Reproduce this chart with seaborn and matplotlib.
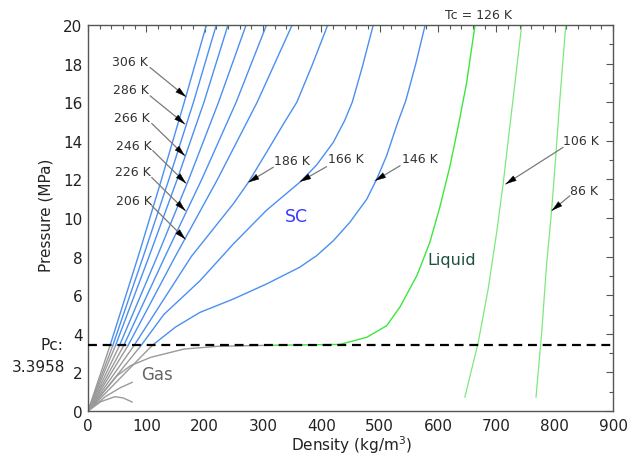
import numpy as np
import matplotlib
matplotlib.use("Agg")
import matplotlib.pyplot as plt
import seaborn as sns
from matplotlib.ticker import MultipleLocator

PC = 3.3958

# Supercritical isotherms (density kg/m3, pressure MPa)
T306_d = [0, 37.8, 86, 126, 165, 203]
T306_p = [0, PC, 8, 12, 16, 20]
T286_d = [0, 42.5, 94.7, 138.7, 180.8, 220]
T286_p = [0, PC, 8, 12, 16, 20]
T266_d = [0, 47.2, 104.6, 152.9, 198.8, 240]
T266_p = [0, PC, 8, 12, 16, 20]
T246_d = [0, 54, 118.5, 172.7, 223.8, 271]
T246_p = [0, PC, 8, 12, 16, 20]
T226_d = [0, 61.3, 132, 195, 254, 306]
T226_p = [0, PC, 8, 12, 16, 20]
T206_d = [0, 68.7, 149.5, 222, 290, 350]
T206_p = [0, PC, 8, 12, 16, 20]
T186_d = [0, 79, 177, 192, 249, 275, 306, 335, 358, 384, 411]
T186_p = [0, PC, 8, 8.57, 10.73, 11.85, 13.4, 14.87, 16.0, 17.9, 20]
T166_d = [0, 91, 130, 192, 249, 306, 363, 392, 420.5, 440, 453, 470, 489]
T166_p = [0, PC, 5.0, 6.75, 8.65, 10.4, 11.85, 12.75, 13.92, 15.05, 16.0, 17.8, 20]
T146_d = [0, 110, 150, 192, 249, 306, 363, 392, 420.5, 449, 478, 495, 512, 529, 545, 562, 578]
T146_p = [0, PC, 4.35, 5.11, 5.80, 6.58, 7.45, 8.05, 8.82, 9.78, 10.98, 12.02, 13.23, 14.78, 16.1, 18.0, 20]

# Critical isotherm (126 K): gas branch and liquid branch
T126_gas_d = [0, 50, 73, 107.5, 164.6, 221.7, 303]
T126_gas_p = [0, 1.83, 2.35, 2.78, 3.21, 3.35, 3.40]
T126_liq_d = [303, 432, 478, 512, 535, 563.5, 574, 586, 603.5, 620.6, 635, 649, 663.5]
T126_liq_p = [3.40, 3.45, 3.82, 4.42, 5.4, 7.0, 7.8, 8.74, 10.6, 12.7, 14.8, 17.0, 20]

# Subcritical isotherms
T106_gas_d = [0, 30, 55, 76]
T106_gas_p = [0, 0.75, 1.2, 1.49]
T86_gas_d = [0, 21.7, 46, 60, 76]
T86_gas_p = [0, 0.48, 0.74, 0.68, 0.46]
T106_liq_d = [646, 669, 686, 700.6, 712, 720.6, 732, 743.5]
T106_liq_p = [0.71, 3.56, 6.32, 9.26, 11.85, 14.1, 17.0, 20]
T86_liq_d = [768, 777.8, 786, 795, 800.6, 809, 819]
T86_liq_p = [0.71, 4.08, 7.53, 10.47, 12.7, 16.17, 20]

# Labels: text, text position, arrow tail, arrow tip
left_labels = ["306 K", "286 K", "266 K", "246 K", "226 K", "206 K"]
left_text = [(40.6, 18.1), (43.4, 16.65), (44.6, 15.2), (47.4, 13.78), (46.3, 12.4), (47.4, 10.93)]
left_tail = [(106.3, 17.8), (106.5, 16.33), (109.2, 14.9), (111, 13.49), (109.2, 12.1), (109.2, 10.64)]
left_tip = [(168, 16.28), (166, 14.87), (166, 13.23), (168, 11.8), (167, 10.38), (167, 8.9)]

right_labels = ["186 K", "166 K", "146 K", "106 K", "86 K"]
right_text = [(319, 13.0), (411, 13.06), (537.8, 13.06), (814, 14.0), (826, 11.45)]
right_tail = [(317.7, 12.63), (409, 12.66), (535, 12.71), (814.5, 13.66), (826, 11.15)]
right_tip = [(274.8, 11.85), (363.5, 11.88), (492, 11.93), (716, 11.76), (795, 10.38)]

sns.set_theme(style="white")
plt.rcParams["font.family"] = ["DejaVu Sans"]

fig = plt.figure(figsize=(6.29, 4.60), dpi=100)
ax = fig.add_axes([88 / 629, 48 / 460, 525 / 629, 386 / 460])
ax.set_xlim(0, 900)
ax.set_ylim(0, 20)

BLUE = "#4b8ff0"
GRAY = "#9a9a9a"
GREEN = "#3ee63e"
LGREEN = "#7de87d"

def draw(d, p, color, lw=1.0):
    sns.lineplot(x=np.asarray(d, float), y=np.asarray(p, float), sort=False,
                 estimator=None, color=color, lw=lw, ax=ax)

sc = [(T306_d, T306_p), (T286_d, T286_p), (T266_d, T266_p), (T246_d, T246_p),
      (T226_d, T226_p), (T206_d, T206_p), (T186_d, T186_p), (T166_d, T166_p),
      (T146_d, T146_p)]
for d, p in sc:
    d = np.asarray(d, float); p = np.asarray(p, float)
    lo = p <= PC + 1e-9
    hi = p >= PC - 1e-9
    draw(d[lo], p[lo], GRAY)
    draw(d[hi], p[hi], BLUE)

draw(T126_gas_d, T126_gas_p, GRAY)
draw(T106_gas_d, T106_gas_p, GRAY)
draw(T86_gas_d, T86_gas_p, GRAY)
draw(T126_liq_d, T126_liq_p, GREEN)
draw(T106_liq_d, T106_liq_p, LGREEN, 0.9)
draw(T86_liq_d, T86_liq_p, LGREEN, 0.9)

ax.axhline(PC, color="black", lw=1.6, ls=(0, (4, 2.6)), zorder=5)

def arrow(tail, tip):
    ax.annotate("", xy=tip, xytext=tail,
                arrowprops=dict(arrowstyle="-", color="#7a7a7a", lw=0.9,
                                shrinkA=0, shrinkB=0))
    tx, ty = ax.transData.transform(tip)
    sx, sy = ax.transData.transform(tail)
    L = np.hypot(sx - tx, sy - ty)
    ux, uy = (sx - tx) / L, (sy - ty) / L
    hx, hy = ax.transData.inverted().transform((tx + ux * 9, ty + uy * 9))
    ax.annotate("", xy=tip, xytext=(hx, hy),
                arrowprops=dict(arrowstyle="-|>,head_length=0.8,head_width=0.22",
                                color="black", lw=0.3, shrinkA=0, shrinkB=0,
                                mutation_scale=9))

for lab, pos, tail, tip in zip(left_labels + right_labels, left_text + right_text,
                               left_tail + right_tail, left_tip + right_tip):
    ax.text(pos[0], pos[1], lab, fontsize=9, color="#333333", ha="left", va="center")
    arrow(tail, tip)

ax.text(358, 10.12, "SC", fontsize=12.5, color="#3a3aff", ha="center", va="center")
ax.text(118, 1.92, "Gas", fontsize=12, color="#666666", ha="center", va="center")
ax.text(581, 7.84, "Liquid", fontsize=11.5, color="#1e5040", ha="left", va="center")
ax.text(670, 20.56, "Tc = 126 K", fontsize=9, color="#333333", ha="center",
        va="center", clip_on=False)
ax.text(-43, 3.43, "Pc:", fontsize=11, color="#222222", ha="right", va="center",
        clip_on=False)
ax.text(-39, 2.32, "3.3958", fontsize=11, color="#222222", ha="right", va="center",
        clip_on=False)

ax.xaxis.set_major_locator(MultipleLocator(100))
ax.xaxis.set_minor_locator(MultipleLocator(20))
ax.yaxis.set_major_locator(MultipleLocator(2))
ax.yaxis.set_minor_locator(MultipleLocator(1))
ax.tick_params(which="both", direction="in", top=True, right=True, colors="#555555",
               labelcolor="#222222", labelsize=11)
ax.tick_params(which="major", length=5, width=0.8)
ax.tick_params(which="minor", length=3, width=0.8)
ax.tick_params(axis="x", pad=5)
ax.tick_params(axis="y", pad=4)
for s in ax.spines.values():
    s.set_color("#555555")
    s.set_linewidth(1.0)

ax.set_xlabel("Density (kg/m$^3$)", fontsize=11, color="#222222")
ax.set_ylabel("Pressure (MPa)", fontsize=11, color="#222222")
ax.xaxis.set_label_coords(0.502, -0.058)
ax.yaxis.set_label_coords(-0.065, 0.51)

fig.savefig("out.png", dpi=100)
